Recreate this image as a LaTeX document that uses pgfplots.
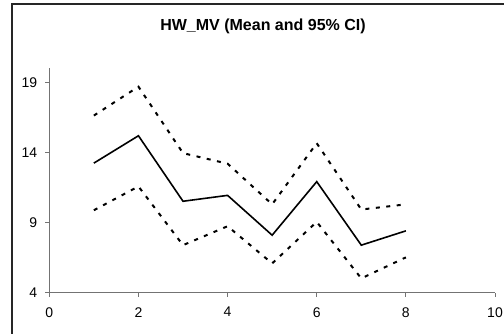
\documentclass[border=0pt]{standalone}
\usepackage{pgfplots}
\pgfplotsset{compat=1.18}
\usepackage{fontspec}
\setmainfont{Liberation Sans}
\begin{document}
\begin{tikzpicture}[x=1bp,y=1bp]
\useasboundingbox (0,0) rectangle (504,333);
\draw[line width=1.6bp, black!85] (12,-5) -- (12,329) -- (520,329);
\begin{axis}[
  at={(49.3bp,40.3bp)}, anchor=south west,
  scale only axis, width=445.7bp, height=224.4bp,
  xmin=0, xmax=10, ymin=4, ymax=20,
  axis x line*=bottom, axis y line*=left,
  axis line style={draw=black!55, line width=1.2bp},
  xtick={0,2,4,6,8,10}, ytick={4,9,14,19},
  tick align=outside, major tick length=4bp,
  tick style={draw=black!55, line width=0.8bp},
  every tick label/.append style={font=\fontsize{14bp}{16bp}\selectfont},
  /pgf/number format/assume math mode=true,
  xticklabel style={yshift=-7bp},
  yticklabel style={xshift=-4.5bp},
  clip=false,
]
\addplot[black, line width=1.6bp] coordinates {
(1,13.24) (2,15.19) (3,10.52) (4,10.94) (5,8.10) (6,11.92) (7,7.39) (8,8.41)};
\addplot[black, line width=2bp, dash pattern=on 4bp off 6.5bp] coordinates {
(1,16.63) (2,18.69) (3,13.95) (4,13.2) (5,10.30) (6,14.66) (7,9.93) (8,10.30)};
\addplot[black, line width=2bp, dash pattern=on 4bp off 6.5bp] coordinates {
(1,9.88) (2,11.58) (3,7.39) (4,8.74) (5,6.09) (6,9.05) (7,5.02) (8,6.52)};
\end{axis}
\node[font=\fontsize{16bp}{18bp}\selectfont\bfseries] at (263,306.5) {HW\_MV (Mean and 95\% CI)};
\end{tikzpicture}
\end{document}
